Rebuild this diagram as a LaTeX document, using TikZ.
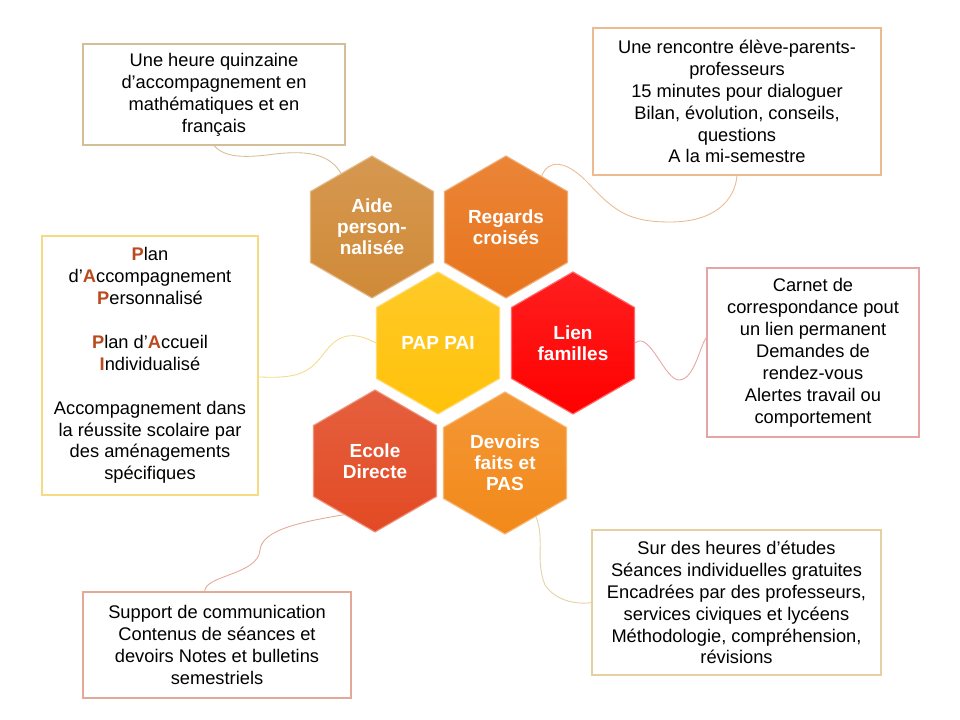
\documentclass[tikz,border=0pt]{standalone}
\usepackage{fontspec}
\setmainfont{Liberation Sans}
\usetikzlibrary{shapes.geometric}
\definecolor{c1}{HTML}{D08A38}
\definecolor{c2}{HTML}{E8741C}
\definecolor{c3}{HTML}{FFC20A}
\definecolor{c4}{HTML}{FF0000}
\definecolor{c5}{HTML}{E24A24}
\definecolor{c6}{HTML}{F2891A}
\definecolor{e1}{HTML}{D3BE98}
\definecolor{e2}{HTML}{EBBA8E}
\definecolor{e3}{HTML}{F6DB84}
\definecolor{e4}{HTML}{E8A3A3}
\definecolor{e5}{HTML}{E3D1A2}
\definecolor{e6}{HTML}{E4A896}
\definecolor{initial}{HTML}{BA4A1E}
\def\pxu{0.025cm}
\newcommand{\ini}[1]{\textcolor{initial}{\bfseries #1}}

\begin{document}
\begin{tikzpicture}[
    x=0.025cm, y=-0.025cm,
    hexa/.style={regular polygon, regular polygon sides=6, shape border rotate=30,
        minimum size=142*\pxu, inner sep=0pt, top color=#1!88!white, bottom color=#1,
        draw=#1!60!white, line width=0.8pt, text=white, align=center,
        font=\bfseries\fontsize{13.5}{14.8}\selectfont},
    notebox/.style={rectangle, draw=#1, line width=0.8pt, fill=white, align=center,
        inner sep=0pt, font=\fontsize{13}{15.6}\selectfont},
    wire/.style={draw=#1, line width=0.6pt},
]

\fill[white] (0,0) rectangle (960,720);
\useasboundingbox (0,0) rectangle (960,720);

% ============================================================ the honeycomb
\node[hexa=c1] (aide)    at (372,227) {Aide\\ person-\\ nalisée};
\node[hexa=c2] (regards) at (506,227) {Regards\\ croisés};
\node[hexa=c3] (pap)     at (438,343) {PAP PAI};
\node[hexa=c4] (lien)    at (573,343) {Lien\\ familles};
\node[hexa=c5] (ecole)   at (375,461) {Ecole\\ Directe};
\node[hexa=c6] (devoirs) at (505,463) {Devoirs\\ faits et\\ PAS};

% ============================================================ the notes
\node[notebox=e1, minimum width=262*\pxu, minimum height=101*\pxu] (note1) at (214,94.5)
    {Une heure quinzaine\\ d’accompagnement en\\ mathématiques et en\\ français};
\node[notebox=e2, minimum width=288*\pxu, minimum height=147*\pxu] (note2) at (737,101.5)
    {Une rencontre élève-parents-\\ professeurs\\ 15 minutes pour dialoguer\\
     Bilan, évolution, conseils,\\ questions\\ A la mi-semestre};
\node[notebox=e3, minimum width=216*\pxu, minimum height=259*\pxu] (note3) at (150,365.5)
    {\ini{P}lan\\ d’\ini{A}ccompagnement\\ \ini{P}ersonnalisé\\[15.6pt]
     \ini{P}lan d’\ini{A}ccueil\\ \ini{I}ndividualisé\\[15.6pt]
     Accompagnement dans\\ la réussite scolaire par\\ des aménagements\\ spécifiques};
\node[notebox=e4, minimum width=212*\pxu, minimum height=169*\pxu] (note4) at (813,352.5)
    {Carnet de\\ correspondance pout\\ un lien permanent\\ Demandes de\\
     rendez-vous\\ Alertes travail ou\\ comportement};
\node[notebox=e5, minimum width=289*\pxu, minimum height=145*\pxu] (note5) at (736.5,602.5)
    {Sur des heures d’études\\ Séances individuelles gratuites\\
     Encadrées par des professeurs,\\ services civiques et lycéens\\
     Méthodologie, compréhension,\\ révisions};
\node[notebox=e6, minimum width=268*\pxu, minimum height=106*\pxu] (note6) at (217,645)
    {Support de communication\\ Contenus de séances et\\ devoirs Notes et bulletins\\ semestriels};

% ============================================================ the wavy links
\draw[wire=e1] (note1.south) .. controls (225,158) and (245,158) .. (275,154)
    .. controls (310,150) and (330,155) .. (aide.120);
\draw[wire=e2] (regards.55) .. controls (548,160) and (565,158) .. (590,185)
    .. controls (615,212) and (630,222) .. (670,222)
    .. controls (715,222) and (735,200) .. (note2.south);
\draw[wire=e3] (note3.-6) .. controls (300,379) and (310,372) .. (325,352)
    .. controls (338,335) and (352,330) .. (pap.west);
\draw[wire=e4] (lien.east) .. controls (650,330) and (665,382) .. (680,380)
    .. controls (695,378) and (700,345) .. (note4.172);
\draw[wire=e6] (ecole.240) .. controls (300,522) and (262,530) .. (260,550)
    .. controls (258,575) and (205,575) .. (note6.103);
\draw[wire=e5] (devoirs.-60) .. controls (545,540) and (535,560) .. (545,585)
    .. controls (555,600) and (575,605) .. (note5.west);

\end{tikzpicture}
\end{document}
